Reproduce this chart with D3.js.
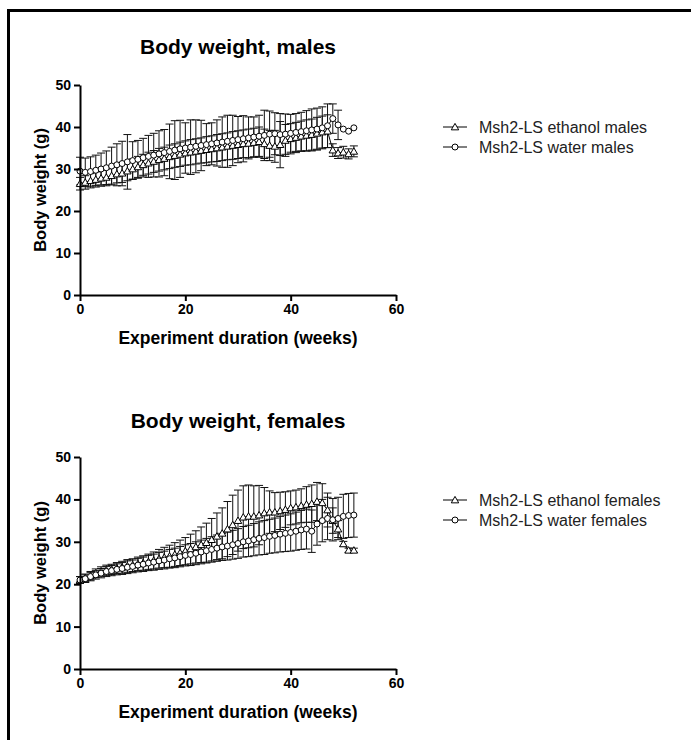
<!DOCTYPE html>
<html>
<head>
<meta charset="utf-8">
<script src="https://cdn.jsdelivr.net/npm/d3@7"></script>
<style>
  body { margin: 0; background: #fff; }
  text { font-family: "Liberation Sans", Arial, sans-serif; }
</style>
</head>
<body>
<div id="chart"></div>
<script>
const weeks = d3.range(0, 53)
const xTicks = [0, 20, 40, 60]
const yTicks = [0, 10, 20, 30, 40, 50]

const maleEthanolMean = [26.5, 26.8, 27.2, 27.5, 27.8, 28.0, 28.4, 28.8, 29.0, 29.5,
  30.0, 30.5, 31.0, 31.4, 31.8, 32.2, 32.5, 32.9, 33.2, 33.5,
  33.8, 34.0, 34.2, 34.4, 34.6, 34.8, 35.0, 35.2, 35.4, 35.6,
  35.8, 36.0, 36.1, 36.3, 36.5, 36.0, 35.6, 35.4, 35.8, 36.8,
  37.2, 37.5, 37.8, 38.0, 38.2, 38.5, 38.8, 39.0, 34.5, 33.8,
  34.0, 33.6, 34.2]
const maleEthanolSD = [1.5, 1.6, 1.7, 1.8, 1.9, 2.0, 2.0, 2.1, 2.2, 2.3,
  2.4, 2.5, 2.5, 2.6, 2.6, 2.7, 2.7, 2.8, 2.8, 2.9,
  2.9, 3.0, 3.0, 3.0, 3.1, 3.1, 3.2, 3.2, 3.2, 3.3,
  3.3, 3.3, 3.4, 3.4, 3.5, 3.5, 3.6, 3.8, 5.5, 3.8,
  3.6, 3.6, 3.6, 3.7, 3.7, 3.8, 3.8, 3.9, 1.5, 1.3,
  1.4, 1.2, 1.3]
const maleWaterMean = [29.5, 29.2, 29.4, 29.7, 30.0, 30.3, 30.7, 31.0, 31.3, 31.7,
  32.0, 32.3, 32.7, 33.0, 33.3, 33.6, 33.9, 34.2, 34.5, 34.8,
  35.0, 35.2, 35.4, 35.6, 35.8, 36.0, 36.2, 36.4, 36.6, 36.8,
  37.0, 37.2, 37.4, 37.6, 37.8, 38.0, 38.3, 38.4, 38.2, 38.3,
  38.5, 38.7, 38.9, 39.1, 39.3, 39.5, 39.8, 40.3, 42.0, 40.5,
  39.5, 39.0, 39.8]
const maleWaterSD = [3.3, 3.4, 3.5, 3.6, 3.8, 4.0, 4.5, 5.0, 5.3, 6.5,
  4.5, 4.5, 4.6, 5.0, 5.2, 5.5, 5.5, 6.5, 7.0, 6.8,
  6.0, 6.5, 6.3, 6.0, 5.0, 5.0, 5.5, 6.0, 6.2, 6.0,
  5.5, 5.5, 5.0, 4.8, 5.0, 6.0, 5.5, 5.0, 5.0, 4.8,
  4.5, 4.5, 4.6, 4.8, 5.0, 5.0, 5.0, 5.2, 3.5, 3.5,
  0, 0, 0]

const femaleEthanolMean = [21.0, 21.5, 22.0, 22.6, 23.0, 23.3, 23.5, 23.8, 24.0, 24.3,
  24.5, 24.8, 25.0, 25.3, 25.6, 26.0, 26.3, 26.6, 27.0, 27.4,
  27.8, 28.3, 28.8, 29.3, 29.8, 30.5, 31.3, 32.0, 33.0, 34.0,
  35.0, 35.8, 36.0, 36.0, 36.3, 36.8, 37.0, 37.0, 37.3, 37.6,
  38.0, 38.2, 38.5, 38.8, 39.0, 39.5, 39.2, 37.5, 35.0, 33.0,
  29.5, 28.0, 28.0]
const femaleEthanolSD = [0.8, 0.9, 1.0, 1.0, 1.1, 1.2, 1.2, 1.3, 1.4, 1.5,
  1.5, 1.6, 1.7, 1.8, 2.0, 2.2, 2.4, 2.6, 2.8, 3.0,
  3.2, 3.5, 3.8, 4.2, 4.6, 5.0, 5.5, 6.0, 6.5, 7.0,
  7.2, 7.4, 7.4, 7.2, 7.0, 6.0, 5.0, 4.6, 4.4, 4.2,
  4.0, 4.0, 4.0, 4.2, 4.4, 4.5, 4.5, 4.0, 3.0, 2.0,
  0.6, 0.5, 0.5]
const femaleWaterMean = [21.0, 21.3, 21.8, 22.2, 22.6, 23.0, 23.2, 23.5, 23.7, 24.0,
  24.2, 24.5, 24.7, 25.0, 25.2, 25.5, 25.7, 26.0, 26.2, 26.5,
  26.8, 27.0, 27.3, 27.6, 27.9, 28.2, 28.5, 28.8, 29.0, 29.3,
  29.6, 30.0, 30.2, 30.5, 30.8, 31.0, 31.3, 31.5, 31.8, 32.0,
  32.2, 32.5, 32.8, 33.0, 32.5, 34.2, 35.0, 35.5, 35.2, 35.5,
  36.0, 36.2, 36.3]
const femaleWaterSD = [0.8, 0.9, 1.0, 1.0, 1.1, 1.2, 1.2, 1.3, 1.4, 1.5,
  1.5, 1.6, 1.7, 1.8, 1.9, 2.0, 2.1, 2.2, 2.3, 2.4,
  2.5, 2.6, 2.7, 2.8, 2.9, 3.0, 3.1, 3.2, 3.3, 3.4,
  3.5, 3.6, 3.7, 3.8, 3.9, 4.0, 4.0, 4.1, 4.2, 4.3,
  4.4, 4.5, 4.6, 4.7, 5.0, 5.0, 5.0, 5.0, 5.0, 5.0,
  5.2, 5.2, 5.2]

const svgWidth = 691, svgHeight = 740

const svg = d3.select('#chart')
    .append('svg')
    .attr('width', svgWidth)
    .attr('height', svgHeight)

// frame around the figure (open to the right and bottom)
svg.append('rect')
    .attr('x', 8.5)
    .attr('y', 10.5)
    .attr('width', 720)
    .attr('height', 760)
    .attr('fill', 'none')
    .attr('stroke', '#000')
    .attr('stroke-width', 3)

const panels = [
    {title: 'Body weight, males', top: 85, bottom: 295, titleY: 47, legendY: 127,
     series: [
        {name: 'Msh2-LS ethanol males', mean: maleEthanolMean, sd: maleEthanolSD, shape: 'triangle'},
        {name: 'Msh2-LS water males', mean: maleWaterMean, sd: maleWaterSD, shape: 'circle'}]},
    {title: 'Body weight, females', top: 457, bottom: 669, titleY: 421, legendY: 500,
     series: [
        {name: 'Msh2-LS ethanol females', mean: femaleEthanolMean, sd: femaleEthanolSD, shape: 'triangle'},
        {name: 'Msh2-LS water females', mean: femaleWaterMean, sd: femaleWaterSD, shape: 'circle'}]}
]

let xScale = d3.scaleLinear().domain([0, 60]).range([80, 396])

function marker(g, shape, x, y){
    if(shape == 'circle'){
        g.append('circle')
            .attr('cx', x).attr('cy', y).attr('r', 3)
            .attr('fill', '#fff').attr('stroke', '#000').attr('stroke-width', 1)
    } else {
        g.append('path')
            .attr('d', d3.symbol(d3.symbolTriangle, 24)())
            .attr('transform', `translate(${x},${y + 0.7})`)
            .attr('fill', '#fff').attr('stroke', '#000').attr('stroke-width', 1)
    }
}

panels.forEach(p => {
    let yScale = d3.scaleLinear().domain([0, 50]).range([p.bottom, p.top])
    let g = svg.append('g')

    p.series.forEach(s => {
        let pts = weeks.map((w, i) => ({week: w, mean: s.mean[i], sd: s.sd[i]}))

        // error bars
        let eb = g.append('g').attr('stroke', '#111').attr('stroke-width', 1)
        pts.filter(d => d.sd > 0).forEach(d => {
            let x = xScale(d.week)
            eb.append('line')
                .attr('x1', x).attr('x2', x)
                .attr('y1', yScale(d.mean - d.sd)).attr('y2', yScale(d.mean + d.sd))
            ;[d.mean - d.sd, d.mean + d.sd].forEach(v => {
                eb.append('line')
                    .attr('x1', x - 4).attr('x2', x + 4)
                    .attr('y1', yScale(v)).attr('y2', yScale(v))
            })
        })

        g.append('path')
            .attr('fill', 'none')
            .attr('stroke', '#000')
            .attr('stroke-width', 1)
            .attr('d', d3.line().x(d => xScale(d.week)).y(d => yScale(d.mean))(pts))
    })

    p.series.forEach(s => {
        let mg = g.append('g')
        weeks.forEach((w, i) => marker(mg, s.shape, xScale(w), yScale(s.mean[i])))
    })

    // axes
    let yAxis = g.append('g')
        .attr('transform', `translate(${xScale(0)},0)`)
        .call(d3.axisLeft(yScale).tickValues(yTicks).tickSize(6).tickSizeOuter(0).tickPadding(3))
    let xAxis = g.append('g')
        .attr('transform', `translate(0,${p.bottom})`)
        .call(d3.axisBottom(xScale).tickValues(xTicks).tickSize(6).tickSizeOuter(0).tickPadding(3))

    ;[yAxis, xAxis].forEach(a => {
        a.select('.domain').attr('stroke-width', 2)
        a.selectAll('.tick line').attr('stroke-width', 2)
        a.selectAll('.tick text')
            .attr('font-family', '"Liberation Sans", Arial, sans-serif')
            .attr('font-size', 14)
            .attr('font-weight', 'bold')
            .attr('fill', '#000')
    })

    g.append('text')
        .attr('x', 238).attr('y', p.titleY)
        .attr('text-anchor', 'middle').attr('dy', '0.35em')
        .attr('font-size', 21).attr('font-weight', 'bold')
        .text(p.title)

    g.append('text')
        .attr('x', 238).attr('y', p.bottom + 43)
        .attr('text-anchor', 'middle').attr('dy', '0.35em')
        .attr('font-size', 17.5).attr('font-weight', 'bold')
        .text('Experiment duration (weeks)')

    g.append('text')
        .attr('transform', `translate(40,${(p.top + p.bottom) / 2}) rotate(-90)`)
        .attr('text-anchor', 'middle').attr('dy', '0.35em')
        .attr('font-size', 16.5).attr('font-weight', 'bold')
        .text('Body weight (g)')

    // legend
    p.series.forEach((s, i) => {
        let ly = p.legendY + i * 20
        let lg = g.append('g')
        lg.append('line')
            .attr('x1', 443).attr('x2', 467).attr('y1', ly).attr('y2', ly)
            .attr('stroke', '#000').attr('stroke-width', 1)
        marker(lg, s.shape, 455, ly)
        lg.append('text')
            .attr('x', 479).attr('y', ly).attr('dy', '0.35em')
            .attr('font-size', 16).attr('fill', '#222')
            .text(s.name)
    })
})
</script>
</body>
</html>
